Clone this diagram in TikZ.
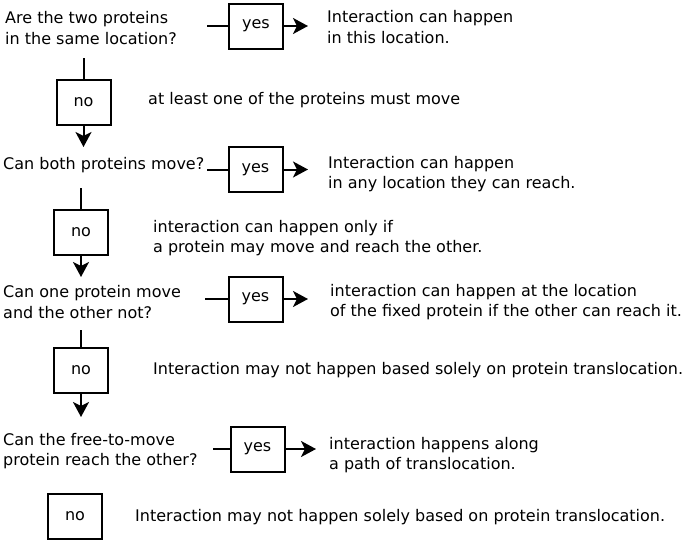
\documentclass[tikz,border=0pt]{standalone}
\usepackage{fontspec}
\setmainfont{DejaVu Sans}
\usetikzlibrary{positioning,calc,arrows.meta}
\tikzset{BOX/.style={rectangle,draw,line width=2pt,minimum width=54pt,minimum height=45pt,inner sep=0pt,font=\fontsize{16}{20}\selectfont}}
\tikzset{TEXT/.style={align=left,anchor=west,inner sep=0pt,font=\fontsize{16}{20.5}\selectfont}}
\tikzset{LINE/.style={line width=2pt}}
\tikzset{ARROW/.style={line width=2pt,-{Stealth[length=15pt,width=16pt,inset=4pt]}}}

\begin{document}
\begin{tikzpicture}[x=1pt,y=-1pt]
\useasboundingbox (0,0) rectangle (685,541);

% first question
\node[TEXT] (n_q1) at (5,28) {Are the two proteins\\in the same location?};
\node[BOX] (n_yes1) at (256,26) {yes};
\node[TEXT] (n_a1) at (327,27) {Interaction can happen\\in this location.};
\coordinate (c_in1) at (207,26);
\coordinate (c_out1) at (308,26);
\draw[LINE] (c_in1) -- (n_yes1.west);
\draw[ARROW] (n_yes1.east) -- (c_out1);

\node[BOX] (n_no1) at (83.5,102) {no};
\node[TEXT] (n_c1) at (148,100) {at least one of the proteins must move};
\coordinate (c_top1) at (83.5,58);
\coordinate (c_bot1) at (83.5,147);
\draw[LINE] (c_top1) -- (n_no1.north);
\draw[ARROW] (n_no1.south) -- (c_bot1);

% second question
\node[TEXT] (n_q2) at (3,165) {Can both proteins move?};
\node[BOX] (n_yes2) at (255.5,169.5) {yes};
\node[TEXT] (n_a2) at (328,174) {Interaction can happen\\in any location they can reach.};
\coordinate (c_in2) at (207,169.5);
\coordinate (c_out2) at (308,169.5);
\draw[LINE] (c_in2) -- (n_yes2.west);
\draw[ARROW] (n_yes2.east) -- (c_out2);

\node[BOX] (n_no2) at (81,232) {no};
\node[TEXT] (n_c2) at (153,238) {interaction can happen only if\\a protein may move and reach the other.};
\coordinate (c_top2) at (81,188);
\coordinate (c_bot2) at (81,277);
\draw[LINE] (c_top2) -- (n_no2.north);
\draw[ARROW] (n_no2.south) -- (c_bot2);

% third question
\node[TEXT] (n_q3) at (3,302) {Can one protein move\\and the other not?};
\node[BOX] (n_yes3) at (255.5,299) {yes};
\node[TEXT] (n_a3) at (330,302) {interaction can happen at the location\\of the fixed protein if the other can reach it.};
\coordinate (c_in3) at (205,299);
\coordinate (c_out3) at (308,299);
\draw[LINE] (c_in3) -- (n_yes3.west);
\draw[ARROW] (n_yes3.east) -- (c_out3);

\node[BOX] (n_no3) at (81,370) {no};
\node[TEXT] (n_c3) at (153,370) {Interaction may not happen based solely on protein translocation.};
\coordinate (c_top3) at (81,330);
\coordinate (c_bot3) at (81,417);
\draw[LINE] (c_top3) -- (n_no3.north);
\draw[ARROW] (n_no3.south) -- (c_bot3);

% fourth question
\node[TEXT] (n_q4) at (3,451) {Can the free-to-move\\protein reach the other?};
\node[BOX] (n_yes4) at (257.5,449) {yes};
\node[TEXT] (n_a4) at (329,455) {interaction happens along\\a path of translocation.};
\coordinate (c_in4) at (213,449);
\coordinate (c_out4) at (316,449);
\draw[LINE] (c_in4) -- (n_yes4.west);
\draw[ARROW] (n_yes4.east) -- (c_out4);

\node[BOX] (n_no4) at (75,516) {no};
\node[TEXT] (n_c4) at (135,517) {Interaction may not happen solely based on protein translocation.};

\end{tikzpicture}
\end{document}
